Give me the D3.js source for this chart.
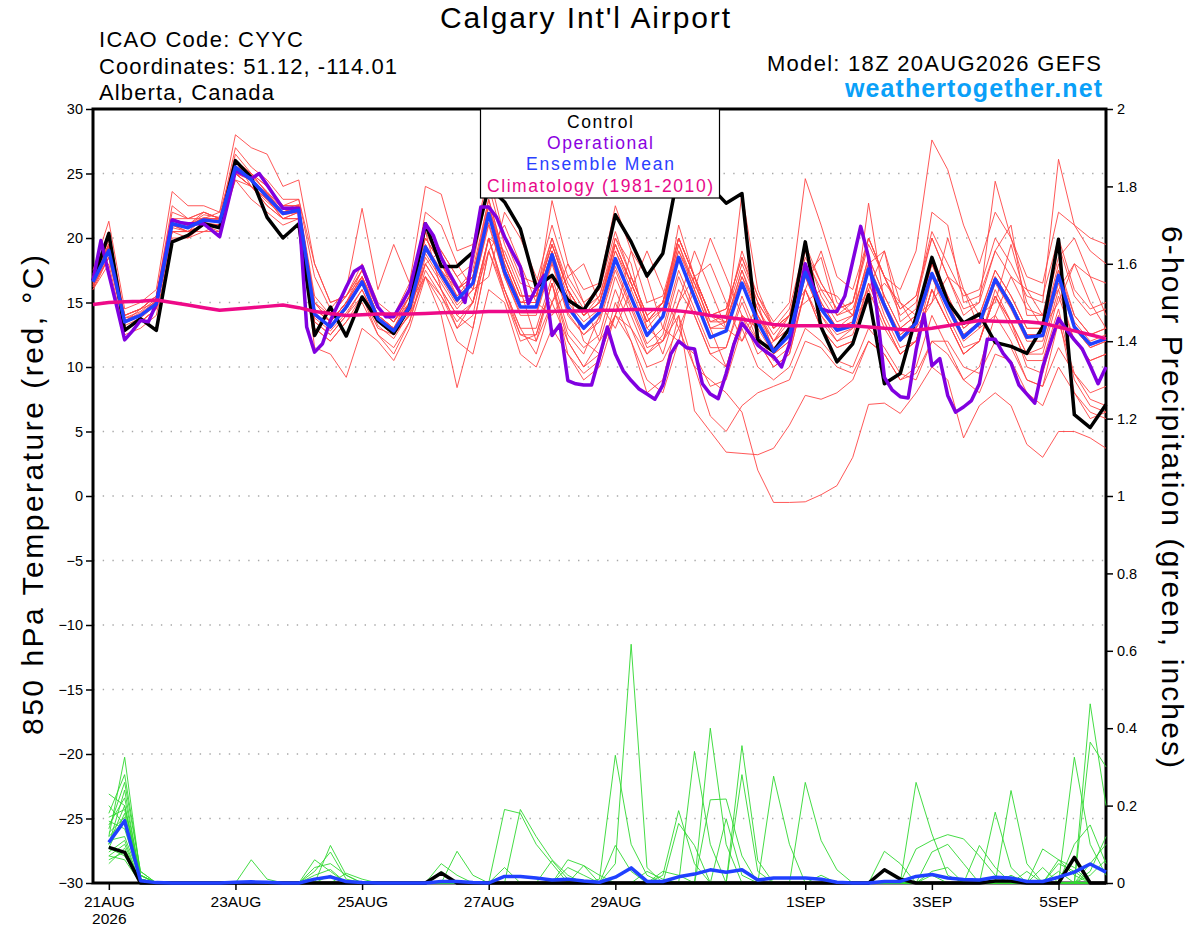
<!DOCTYPE html>
<html>
<head>
<meta charset="utf-8">
<title>Calgary Int'l Airport</title>
<script src="https://cdn.jsdelivr.net/npm/d3@7"></script>
<style>
html,body{margin:0;padding:0;background:#fff;}
svg{display:block;}
</style>
</head>
<body>
<svg id="chart" width="1200" height="927"></svg>
<script>
// ---------------- DATA ----------------
// Model run start: 18Z 20AUG2026; temperature series every 6 h (0..384 h)
const runStart = Date.UTC(2026, 7, 20, 18);

const tempTicks = [30, 25, 20, 15, 10, 5, 0, -5, -10, -15, -20, -25, -30];
const precipTicks = [0, 0.2, 0.4, 0.6, 0.8, 1, 1.2, 1.4, 1.6, 1.8, 2];
const dateTicks = ["2026-08-21", "2026-08-23", "2026-08-25", "2026-08-27", "2026-08-29", "2026-09-01", "2026-09-03", "2026-09-05"];
const dateTickLabels = ["21AUG", "23AUG", "25AUG", "27AUG", "29AUG", "1SEP", "3SEP", "5SEP"];
const legendLabels = ["Control", "Operational", "Ensemble Mean", "Climatology (1981-2010)"];

// 850 hPa temperature, control run (6-hourly)
const controlTemp = [16.7,20.35,12.84,13.75,12.84,19.7,20.2,21.1,20.8,26.0,24.7,21.6,20.0,21.1,
  12.45,14.65,12.4,15.43,13.6,12.6,14.65,
  21.1,17.8,17.8,18.9,24.0,22.8,20.7,16.2,17.1,15.2,14.4,
  16.3,21.8,19.7,17.05,18.8,25.2,26.0,24.0,22.7,23.45,12.1,
  11.2,13.0,19.7,13.1,10.4,11.8,15.6,8.7,9.5,13.9,18.5,
  15.05,13.4,14.1,11.9,11.6,11.05,13.1,19.9,6.3,5.3,7.1];

// operational run (3-hourly)
const operationalTemp = [16.7,19.8,17.2,14.7,12.1,12.8,13.6,13.5,14.9,18.1,
  21.4,21.2,21.1,21.1,21.1,20.6,20.1,22.6,25.2,24.9,
  24.6,25.0,24.1,23.2,22.3,22.3,22.3,13.1,11.15,11.8,
  13.6,14.9,16.2,17.4,17.8,16.2,14.65,13.9,13.9,14.9,
  16.0,18.6,21.1,20.2,18.5,17.3,16.2,15.0,18.8,22.4,
  22.4,21.6,20.1,18.9,17.75,14.9,16.1,17.1,12.45,13.3,
  8.95,8.7,8.6,8.6,10.8,13.1,11.0,9.7,8.95,8.3,
  7.9,7.5,8.6,11.0,12.0,11.5,11.4,8.7,7.9,7.55,
  9.5,11.8,13.4,12.6,11.7,11.2,10.8,10.0,11.75,14.8,
  18.0,16.2,14.5,14.3,14.3,15.5,18.2,20.9,18.5,14.65,
  9.2,8.2,7.7,7.6,11.3,14.1,10.1,10.65,7.8,6.5,
  6.9,7.4,8.7,12.15,12.15,11.05,10.3,8.6,7.9,7.2,
  10.0,11.9,13.75,12.9,12.1,11.4,10.1,8.7,10.0];

// ensemble mean (6-hourly)
const meanTemp = [16.6,19.05,13.5,14.0,14.9,21.1,20.8,21.4,21.25,25.5,24.5,23.2,21.9,22.15,
  14.1,13.1,14.65,16.6,13.75,12.8,14.65,
  19.3,17.2,15.2,16.5,21.9,17.4,14.65,14.65,18.7,14.65,13.0,
  14.25,18.4,15.4,12.45,13.9,18.5,15.4,12.3,12.8,16.5,13.5,
  11.2,12.45,17.35,14.5,12.85,13.2,17.6,14.8,12.1,13.4,17.25,
  14.65,12.3,13.4,16.8,14.8,12.3,12.45,17.1,13.1,11.75,12.2];

// climatology 1981-2010 (6-hourly)
const climoTemp = [14.85,15.0,15.05,15.1,15.2,15.0,14.8,14.6,14.4,14.5,14.6,14.7,14.8,14.6,
  14.3,14.15,14.0,14.05,14.1,14.1,14.1,
  14.15,14.2,14.25,14.25,14.3,14.3,14.3,14.3,14.3,14.35,14.35,
  14.4,14.4,14.45,14.45,14.45,14.35,14.2,14.0,13.85,13.7,13.5,
  13.3,13.2,13.2,13.2,13.2,13.2,13.1,13.0,12.9,12.85,13.0,
  13.2,13.4,13.6,13.55,13.5,13.5,13.4,13.1,12.8,12.5,12.2];

// ensemble members (6-hourly)
const tempMembers = [
 [16.3,18.5,13,13.5,14.5,20.5,20.5,21,21,25,24.5,23,21.5,22, 13.5,12.5,14,16,13.5,12.5,14, 18.5,16.5,14.5,16,21,17,14,14,18,14,12.5, 13.5,17.5,14.5,11.5,12,14,10,9,8,6.5,2.0, -0.5,-0.5,-0.45,0.1,0.8,3.0,7.1,7.2,6.4,8,10, 9,4.5,7,8,7,4,3,5,5,4.5,3.7],
 [17,20,14,14.5,15.5,22,21.5,22,21.5,26.5,25,24,22.5,22.5, 15,13.5,15,17,14,13,15.5, 20,18,15.5,17,22.5,18,15,15.5,19.5,16,14, 15,19,16.5,13.5,15,19.5,16,13,13.5,17,14.5, 12,13.5,18.5,16,14,15,19.5,17,16,19,27.6, 25.3,21,18,22,20,17,16.5,22,21,20,19.5],
 [16.5,19.5,13.5,14,15,21.5,21,21.5,22,26,24,23,22,22.5, 14,13,14.5,16.5,13.5,12.5,14.5, 18,19,17,15,19,21,18,15,14,16,12, 11,14,17,14,11,15,19,16,13,12,15, 11,12,17,14,12.5,13,17.5,14.5,12,13,17, 14.5,12,13,16.5,14.5,12,12,16.5,13,11.5,12],
 [16.8,19,13,13.5,14.5,20.5,20,21,20.5,25,24,22.5,21.5,21.5, 11.5,11,9.2,13,12,10.5,13, 17,15.5,13.5,15,20,16,13,13,17,13,11.5, 12.5,17,14,11,12.5,17,14,11,11.5,15,12, 10,11,16,13,11.5,12,16,13,11,12,16, 13.5,11,12,15.5,13.5,11,11.5,16,12,10.5,11],
 [17.2,20.5,14,14.5,15.5,22.5,21.5,22,21.5,27,25.5,24.5,23,23, 17,14.5,16,22.3,16,19.5,16.5, 21,19,17,18,24,19.5,16.5,16,20,16.5,14.5, 15.5,20,17,14,15,20,17,14,14.5,18.5,15, 13,14,19,16.5,14.5,15,20,17,14,15,20, 17,14,15,19,17,14.5,14,19.5,15.5,14,14.5],
 [16,18,12.5,13,14,20,20,20.5,21,24.5,23,22,21,21.5, 13,12,13.5,15,12.5,11,13.5, 17.5,15.5,13,15,20,15.5,12.5,12.5,16.5,12,10, 11,14,13,10,10.5,13,10,6.2,5,7,8, 8.5,9,12,11.5,10,9.5,12,11,9,9.5,12, 11,9,8,11,10.5,8,7,10,8,6.5,6],
 [16.6,19,13.5,14,15,21,20.5,21.5,21.5,25.5,25,23.5,22,22, 14.5,13.5,15,17,14,13,15, 20.5,16,13,14,20,19,16,12,15,18,15, 12,14,19,17,13,12,17,18,15,12,14, 11.5,12.5,17.5,14.5,13,13.5,18,15,12.5,13.5,18, 15,12.5,13.5,17,15,12.5,12.5,17.5,13.5,12,12.5],
 [17,19.5,14,14.5,15.5,21.5,21,22,21.5,26,25,24,22.5,23, 18,15,15.5,18,15,14,16.5, 24,23.4,19,19.5,25,20,17,16.5,21,17,15, 16,20.5,17,14,15,19,16.5,13.5,14,18,15, 13,14,16,19,15,14,16,19,15,13,15, 20,16,14,15,19.5,15,13,15,18,15,13],
 [16.2,18.5,13,13.5,14.5,20.5,20.5,20.5,20.5,24.5,24,22.5,21.5,22, 13.5,12.5,14,15.5,13,12.5,14, 17,14,8.4,13,19,15.5,12,12.5,16.5,12.5,11, 14,20,18,13,12,15,17,13,10,14,12, 10,11,16,13,11.5,12,16.5,13.5,11,12,16, 13.5,11,12,15.5,13.5,11,11,15.5,12,10.5,11],
 [16.8,19.5,13.5,14.5,15,21.5,21.5,21.5,21.5,26,24.5,23.5,22,22.5, 15,13.5,15,17.5,14.5,13.5,15.5, 20.5,18,16,17,23,18.5,15.5,15.5,20,16,14, 15,19.5,16.5,13.5,15,20,17,14,14,19,15.5, 13.5,15,24.6,21,17,16,20,17,14.5,15.5,20, 17,14.5,15,24.4,20,16,15.5,20,16,14.5,15],
 [16.4,19,13.5,14,15,21,21,21.5,21.5,25.5,24.5,23,22,22, 14,13,14.5,16.5,13.5,12.5,14.5, 19.5,17,15,16.5,22.5,18,15,15,22.9,18,16, 16.5,22.5,19,15,15.5,20,17,14,13.5,17.5,14, 12,13,18,15,13,13.5,22.7,15,12.5,13.5,18, 15,12.5,13.5,17,15,12.5,12.5,17,13,11.5,12],
 [16.5,18.8,13,13.5,14.5,20.5,20.5,21,21,25,24,23,21.5,21.5, 13,12,13.5,15.5,12.5,11.5,13.5, 18,16,14,15,20,16,12.5,12,16.5,11,9.5, 10.5,15,12,8,9,14,6.6,5,3.4,3.3,3.2, 3.7,5.5,7.8,7.5,8,9,12,11,9,10,14, 11.5,9,10,14,12,9,8.5,13.5,9.5,8,8.5],
 [17,19.8,13.8,14,15.2,21.2,20.8,21.2,21,25.5,24.5,23,22,22, 14,13,14.5,16.5,14,13,15, 22,21,18,16,17,22,20,17,15,17,18, 15,13,16,19,16,13,16,20,17,14,13, 11,12,17,14,12,13,17.5,14,11.5,12,17, 14,11.5,12,16,13.5,10,9.5,14,8,6,6.5],
 [16,18.5,13.5,14,15,21,20.5,21,21,25,24,23,22,22, 14.5,13.5,15,17,14,13,14.5, 18,16,14,13,19,16,13,11,15,12,10, 12,16,13,11,12,16,14,11,10,14,11, 12,14,15,16,15.5,14,15,16.5,15,14,15, 17,16,13,14,17,16,14,16,18,17,16.5],
 [17,19.5,14,14.5,15.5,21.5,21,21.5,21.5,26,25,23.5,22.5,22.5, 15,14,15.5,17.5,14.5,13.5,15.5, 20,18,16,17,22.5,18.5,15.5,15.5,19.5,16,14, 15.5,19.5,16.5,13.5,15,20,17,14,14.5,18.5,15.5, 13,14.5,19.5,16.5,14.5,15,20,17,14.5,15.5,20.5, 18,15.5,16,20,18,15.5,15,26.1,21,19,18],
 [16.2,18.8,13.2,13.8,14.8,20.8,20.5,21,21,25,24,22.8,21.8,22, 13.8,12.8,14.2,16,13.2,12.2,14.2, 18.8,16.8,14.8,16,21.2,17,14.2,14.2,18.2,14.2,12.5, 13.8,17.8,14.8,11.8,13,17.5,14.5,11.5,11.5,15.5,12.5, 10.5,11.5,16,13.5,12,12.5,16.5,13.5,11,12,16, 13.5,11,12,15.5,13,10.5,10.5,14.5,9,7,6.5],
 [16.9,19.3,13.8,14.3,15.3,21.5,21,21.8,21.6,25.8,24.8,23.6,22.2,22.6, 15.5,14,15.5,17.5,14.5,13.5,15.5, 20,18,16,17.5,23,18.5,15.5,15.5,19.5,16,14, 15,19.5,16.5,13.5,14.5,19.5,16.5,13.5,13.5,17.5,14.5, 12.5,14,17,18.5,14,14.5,18,19,13.5,14.5,22, 21,15,15.5,19,21,14,14,18.5,20,17,14],
 [16.4,19.2,13.4,14,15,21,20.8,21.4,21.2,25.4,24.4,23.2,22,22.2, 14.2,13.2,14.8,16.8,13.8,12.8,14.8, 19.5,17.5,15.5,16.5,22,17.5,15,15,19,15,13.5, 14.5,18.5,15.5,12.5,14,21,17,14,13,23.5,16, 13,14,19,15.5,13.5,14,18.5,15.5,13,14,18.5, 15.5,13,14,17.5,15.5,13,13,18,14,12.5,13],
 [16.7,19.2,13.6,14.2,15.1,21.3,21,21.6,21.4,25.6,24.6,23.4,22,22.4, 14.5,13.5,15,16.5,13.5,12.5,15, 17,15,12,11,16,15,11,10,13,11,9, 10,14,12,9,8,12,11,8.5,9,13,10, 9,10,13,12,10.5,10,13,11.5,9.5,9,12, 12,10,9.5,12,11.5,9,8.5,11.5,9.5,7.5,7],
 [17.5,21.3,14.5,15,16,23.6,22.5,22.5,22,28,27,26.5,24,24.5, 18,15,15.5,17,14.5,13.5,15, 19,17.5,16,17,22,18,15,15,19,15.5,14, 15,19,16,13,14.5,19,16,13,13,17,14, 12,13,18,15,13,14,18.5,15.5,13,14,18, 15.5,13,14,17.5,15.5,13,13,17.5,14,12.5,13]
];

// 6-hour precipitation (inches), valid 21AUG 00Z onward (64 values)
const controlPrecip = [.092,.079,0,0,0,0,0,0, 0,0,0,0,0,0,0,0, 0,0,0,0,0,.026,0,0, 0,0,0,0,0,0,0,0,
  0,0,0,0,0,0,0,0, 0,0,0,0,0,0,0,0, 0,.034,.01,0,0,0,0,0, .005,.005,0,0,0,.066,0,0];
const meanPrecip = [.105,.161,.006,.001,0,0,0,0, .002,.003,.002,0,0,.01,.016,.004, .001,0,0,0,0,.004,.004,.001,
  0,.017,.017,.013,.008,.01,.005,.002, .015,.039,.004,.004,.016,.023,.034,.028, .034,.008,.013,.013,.013,.01,.002,0,
  0,.004,.004,.017,.022,.013,.009,.008, .015,.013,.004,.004,.015,.028,.049,.028];
const precipMembers = [
 [.12,.325,.02,0,0,0,0,0, 0,0,0,0,0,0,0,0, 0,0,0,0,0,0,0,0, 0,0,0,0,0,0,0,.01, .33,.1,.02,0,0,0,0,0, 0,0,0,0,0,0,0,0, 0,0,0,0,0,0,0,0, 0,0,0,0,0,.1,.15,.05],
 [.23,.2,.01,0,0,0,0,0, 0,0,0,0,0,0,0,0, 0,0,0,0,0,.05,.02,0, 0,0,0,0,0,0,0,0, 0,0,0,0,0,0,.215,.217, .07,0,0,0,0,0,0,0, 0,0,0,0,0,0,0,0, 0,0,0,0,0,0,.03,.12],
 [.18,.28,.03,0,0,0,0,0, 0,0,0,0,0,.06,.03,0, 0,0,0,0,0,0,0,0, 0,0,0,0,0,0,0,0, 0,0,0,0,.154,.097,0,0, 0,0,0,0,0,0,0,0, 0,0,0,0,.03,.04,0,0, 0,0,0,0,0,0,0,0],
 [.1,.24,.01,0,0,0,0,0, 0,0,0,0,0,0,0,0, 0,0,0,0,0,.03,0,0, 0,0,0,0,0,0,0,0, 0,0,.03,.01,0,0,0,0, 0,0,0,0,0,0,0,0, 0,0,0,0,0,0,0,.097, .04,0,0,0,0,0,0,0],
 [.07,.06,0,0,0,0,0,0, 0,.06,.01,0,0,0,0,0, 0,0,0,0,0,0,0,0, 0,0,0,0,0,0,0,0, .097,.03,0,0,0,0,0,0, 0,0,0,0,0,0,0,0, 0,0,0,0,0,0,0,0, .183,.04,0,0,0,0,0,0],
 [.05,.09,0,0,0,0,0,0, 0,0,0,0,0,0,0,0, 0,0,0,0,0,0,0,0, 0,.19,.18,.1,.05,0,0,0, 0,0,0,0,0,0,0,0, 0,0,0,0,0,0,0,0, 0,0,0,0,0,0,0,0, 0,.239,.05,0,0,0,0,0],
 [.15,.22,.02,0,0,0,0,0, 0,0,0,0,0,0,.097,.02, 0,0,0,0,0,0,0,0, 0,0,0,0,0,0,0,0, 0,0,0,0,0,.34,.1,0, 0,0,0,0,0,0,0,0, 0,0,0,0,0,0,0,0, 0,0,0,0,0,0,.02,.06],
 [.09,.18,.01,0,0,0,0,0, 0,0,0,0,0,.03,.08,.01, 0,0,0,0,0,0,0,0, 0,0,0,0,0,0,0,0, 0,0,0,0,0,0,.4,.1, 0,0,0,0,0,0,0,0, 0,0,0,0,0,0,0,0, 0,0,0,0,.03,0,0,0],
 [.2,.15,.02,0,0,0,0,0, 0,0,0,0,0,0,0,.025, .01,0,0,0,0,0,0,0, 0,0,0,0,0,0,0,0, 0,0,0,0,0,0,0,.166, .02,0,0,0,0,0,0,0, 0,0,0,0,.02,0,0,0, 0,0,0,0,0,0,0,0],
 [.11,.12,.01,0,0,0,0,0, 0,0,0,0,0,0,0,0, 0,0,0,0,0,0,.082,.02, 0,0,0,0,0,0,0,0, 0,0,0,0,0,0,0,0, .355,.058,0,0,0,0,0,0, 0,0,0,0,0,0,0,0, 0,0,0,.04,0,0,0,0],
 [.06,.08,0,0,0,0,0,0, 0,0,0,0,0,0,0,0, 0,0,0,0,0,0,0,0, 0,0,.19,.12,.06,.02,0,0, 0,0,0,0,0,0,0,0, 0,0,0,0,0,0,0,0, 0,0,0,0,0,0,0,0, 0,0,0,.088,.06,.02,0,0],
 [.14,.26,.03,0,0,0,0,0, 0,0,0,0,0,.04,.05,.02, 0,0,0,0,0,0,0,0, 0,0,0,0,0,0,0,0, 0,0,0,0,0,0,0,0, .28,.03,0,0,0,0,0,0, 0,0,0,0,0,0,0,0, 0,0,0,0,0,.325,.1,.02],
 [.08,.11,0,0,0,0,0,0, 0,0,0,0,0,0,0,0, 0,0,0,0,0,0,0,0, 0,.04,0,0,.058,.01,0,0, 0,0,0,0,0,0,0,0, 0,0,.276,.1,0,0,0,0, 0,0,0,0,0,0,0,0, 0,0,0,0,.06,.04,0,0],
 [.13,.17,.01,0,0,0,0,0, 0,0,0,0,0,0,0,0, 0,0,0,0,0,0,0,0, 0,0,0,0,0,.06,.045,0, 0,0,0,0,0,0,0,0, 0,0,0,0,.26,.11,.034,0, 0,0,0,0,0,0,0,0, 0,.02,0,0,0,0,0,0],
 [.1,.2,.02,0,0,0,0,0, 0,0,0,0,0,.02,.035,0, 0,0,0,0,0,0,0,0, 0,0,0,0,0,0,0,0, 0,0,0,0,0,0,0,0, 0,0,0,0,0,0,0,0, 0,.082,.05,0,0,0,0,0, 0,0,0,0,0,0,.05,.1],
 [.16,.14,.01,0,0,0,0,0, 0,0,0,0,0,0,0,0, 0,0,0,0,0,0,0,0, 0,0,0,0,0,.04,.02,0, 0,0,0,0,0,0,0,0, 0,0,0,0,0,0,0,0, 0,0,0,.26,.127,.02,0,0, 0,0,0,0,0,0,0,0],
 [.07,.1,0,0,0,0,0,0, 0,0,0,0,0,0,0,0, 0,0,0,0,0,0,0,0, 0,0,0,0,0,0,.045,.02, 0,0,0,0,0,0,0,0, 0,0,0,0,0,0,0,0, 0,0,0,.088,.11,.125,.114,.07, .02,0,0,0,0,0,0,0],
 [.12,.16,.01,0,0,0,0,0, 0,0,0,0,0,0,.02,0, 0,0,0,0,0,0,0,0, 0,0,0,0,0,0,0,0, 0,0,0,.03,.02,0,0,0, 0,0,0,0,0,0,0,0, 0,0,0,0,.08,.1,.05,0, 0,0,0,0,.05,.03,0,0],
 [.09,.07,0,0,0,0,0,0, 0,0,0,0,0,0,0,0, 0,0,0,0,0,0,0,0, 0,0,0,0,0,0,0,0, .05,.617,.04,0,0,0,0,0, 0,0,0,0,0,0,0,0, 0,0,0,0,0,0,0,0, 0,0,.03,0,0,0,.463,.2],
 [.17,.19,.02,0,0,0,0,0, 0,0,0,0,0,0,0,0, 0,0,0,0,0,0,0,0, 0,0,0,0,0,0,0,0, 0,0,0,.02,.187,.05,0,0, 0,0,0,0,0,.02,0,0, 0,0,0,0,0,0,0,0, 0,0,0,0,0,0,.364,.3]
];

// ---------------- DRAWING ----------------
const FONT = '"Liberation Sans", Arial, Helvetica, sans-serif';
const HOUR = 3600e3;
const svg = d3.select('#chart').attr('font-family', FONT);
svg.append('rect').attr('width', 1200).attr('height', 927).attr('fill', '#fff');

const plot = {left: 93, right: 1106, top: 109, bottom: 883};
const x = d3.scaleUtc()
  .domain([new Date(runStart), new Date(runStart + 384 * HOUR)])
  .range([plot.left, plot.right]);
const yT = d3.scaleLinear().domain([-30, 30]).range([plot.bottom, plot.top]);
const yP = d3.scaleLinear().domain([0, 2]).range([plot.bottom, plot.top]);

const t6 = i => new Date(runStart + i * 6 * HOUR);
const t3 = k => new Date(runStart + k * 3 * HOUR);
const lineT6 = d3.line().x((d, i) => x(t6(i))).y(d => yT(d));
const lineT3 = d3.line().x((d, k) => x(t3(k))).y(d => yT(d));
const lineP = d3.line().x((d, i) => x(t6(i + 1))).y(d => yP(d));

// grid
svg.append('g').selectAll('line')
  .data(tempTicks.filter(v => v > -30 && v < 30))
  .join('line')
  .attr('x1', plot.left).attr('x2', plot.right)
  .attr('y1', d => yT(d)).attr('y2', d => yT(d))
  .attr('stroke', '#a8a8a8').attr('stroke-width', 1.3)
  .attr('stroke-dasharray', '1.4 8.3');

// frame
svg.append('rect')
  .attr('x', plot.left).attr('y', plot.top)
  .attr('width', plot.right - plot.left).attr('height', plot.bottom - plot.top)
  .attr('fill', 'none').attr('stroke', '#000').attr('stroke-width', 3);

// axes
const axL = svg.append('g').attr('transform', `translate(${plot.left - 1},0)`)
  .call(d3.axisLeft(yT).tickValues(tempTicks).tickSize(6).tickPadding(3).tickFormat(d3.format('d')));
const axR = svg.append('g').attr('transform', `translate(${plot.right + 1},0)`)
  .call(d3.axisRight(yP).tickValues(precipTicks).tickSize(6).tickPadding(4).tickFormat(d => String(+d.toFixed(1))));
const axB = svg.append('g').attr('transform', `translate(0,${plot.bottom + 1})`)
  .call(d3.axisBottom(x).tickValues(dateTicks.map(s => new Date(s + 'T00:00:00Z'))).tickSize(6).tickPadding(5)
    .tickFormat((d, i) => dateTickLabels[i]));
[axL, axR, axB].forEach(g => {
  g.select('.domain').remove();
  g.selectAll('.tick line').attr('stroke', '#000').attr('stroke-width', 1.5);
  g.selectAll('.tick text').attr('fill', '#000').attr('font-family', FONT).attr('font-size', 14.5);
});
axB.selectAll('.tick text').attr('font-size', 15.5).attr('dy', '0.78em');
axB.select('.tick').append('text')
  .attr('y', 28).attr('dy', '0.78em').attr('text-anchor', 'middle')
  .attr('fill', '#000').attr('font-family', FONT).attr('font-size', 15.5).text('2026');

// series
const gLines = svg.append('g').attr('fill', 'none').attr('stroke-linejoin', 'round');
gLines.selectAll('path.mem').data(tempMembers).join('path').attr('class', 'mem')
  .attr('d', d => lineT6(d)).attr('stroke', '#ff4545').attr('stroke-width', 0.9);
gLines.selectAll('path.pmem').data(precipMembers).join('path').attr('class', 'pmem')
  .attr('d', d => lineP(d)).attr('stroke', '#30d830').attr('stroke-width', 0.9);

gLines.append('path').attr('d', lineT6(controlTemp)).attr('stroke', '#000').attr('stroke-width', 3.5);
gLines.append('path').attr('d', lineT3(operationalTemp)).attr('stroke', '#8000e0').attr('stroke-width', 3.5);
gLines.append('path').attr('d', lineT6(meanTemp)).attr('stroke', '#2040ff').attr('stroke-width', 3.5);
gLines.append('path').attr('d', lineT6(climoTemp)).attr('stroke', '#ee0a88').attr('stroke-width', 3.5);
gLines.append('path').attr('d', lineP(controlPrecip)).attr('stroke', '#000').attr('stroke-width', 3.5);
gLines.append('path').attr('d', lineP(meanPrecip)).attr('stroke', '#2040ff').attr('stroke-width', 3.5);

// legend
const legColors = ['#000', '#8a00e0', '#2a40ff', '#e8088a'];
const legLens = [66, 106, 148, 226];
const leg = svg.append('g');
leg.append('rect').attr('x', 480.5).attr('y', plot.top).attr('width', 239).attr('height', 89)
  .attr('fill', '#fff').attr('stroke', '#000').attr('stroke-width', 1.2);
leg.selectAll('text').data(legendLabels).join('text')
  .attr('x', 600).attr('y', (d, i) => 127.5 + i * 21.4)
  .attr('text-anchor', 'middle').attr('font-size', 17.5)
  .attr('fill', (d, i) => legColors[i])
  .attr('textLength', (d, i) => legLens[i]).attr('lengthAdjust', 'spacing')
  .text(d => d);

// header texts
function label(txt, xx, yy, size, len, opts = {}) {
  const t = svg.append('text').attr('x', xx).attr('y', yy).attr('font-size', size)
    .attr('fill', opts.fill || '#000').text(txt);
  if (len) t.attr('textLength', len).attr('lengthAdjust', 'spacing');
  if (opts.bold) t.attr('font-weight', 'bold');
  if (opts.anchor) t.attr('text-anchor', opts.anchor);
  return t;
}
label("Calgary Int'l Airport", 440, 28, 30, 290);
label('ICAO Code: CYYC', 99, 47, 22, 204);
label('Coordinates: 51.12, -114.01', 99, 74, 22, 298);
label('Alberta, Canada', 99, 100, 22, 175);
label('Model: 18Z 20AUG2026 GEFS', 767, 71, 22, 334);
label('weathertogether.net', 845, 97, 25, 257, {bold: true, fill: '#0aa0f8'});

// axis titles
svg.append('text').attr('transform', 'translate(43,495) rotate(-90)')
  .attr('text-anchor', 'middle').attr('font-size', 30)
  .attr('textLength', 480).attr('lengthAdjust', 'spacing')
  .text('850 hPa Temperature (red, °C)');
svg.append('text').attr('transform', 'translate(1162,497) rotate(90)')
  .attr('text-anchor', 'middle').attr('font-size', 30)
  .attr('textLength', 542).attr('lengthAdjust', 'spacing')
  .text('6-hour Precipitation (green, inches)');
</script>
</body>
</html>
